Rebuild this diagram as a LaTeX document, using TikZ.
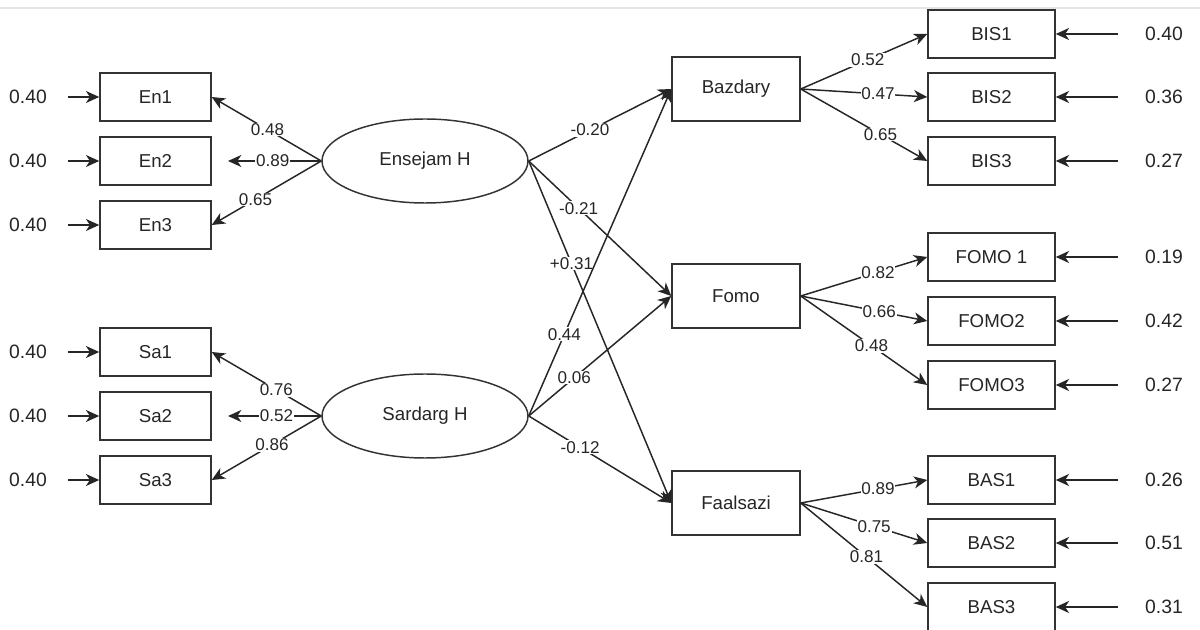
\documentclass[tikz,border=0pt]{standalone}
\usepackage{fontspec}
\setmainfont{Liberation Sans}
\usetikzlibrary{arrows.meta,shapes.geometric}
\begin{document}
\begin{tikzpicture}[x=0.75pt,y=-0.75pt,
  every node/.style={font=\fontsize{14}{16}\selectfont, text=black!85},
  lbox/.style={draw=black!80, line width=1.1pt, rectangle, minimum width=83.25pt, minimum height=36pt, inner sep=0pt},
  mbox/.style={draw=black!80, line width=1.1pt, rectangle, minimum width=96pt, minimum height=48pt, inner sep=0pt},
  rbox/.style={draw=black!80, line width=1.1pt, rectangle, minimum width=95.25pt, minimum height=36pt, inner sep=0pt},
  lat/.style={draw=black!80, line width=1.1pt, ellipse, minimum width=154.5pt, minimum height=63pt, inner sep=0pt},
  arr/.style={draw=black!85, line width=1.1pt, -{Stealth[length=10pt,width=9pt,inset=3pt]}},
  lab/.style={fill=white, inner sep=0.6pt, font=\fontsize{12.8}{14}\selectfont},
  err/.style={font=\fontsize{14.5}{16}\selectfont}]
\useasboundingbox (0,0) rectangle (1200,630);
\fill[white] (0,0) rectangle (1200,630);
\draw[black!10, line width=0.8pt] (0,8) -- (1200,8);

% left indicators
\node[lbox] (En1) at (155.5,97) {En1};
\node[lbox] (En2) at (155.5,161) {En2};
\node[lbox] (En3) at (155.5,225) {En3};
\node[lbox] (Sa1) at (155.5,352) {Sa1};
\node[lbox] (Sa2) at (155.5,416) {Sa2};
\node[lbox] (Sa3) at (155.5,480) {Sa3};

% left errors
\foreach \n/\y in {En1/97,En2/161,En3/225,Sa1/352,Sa2/416,Sa3/480}{
  \node[err] (e\n) at (28,\y) {0.40};
  \coordinate (s\n) at (68,\y);
  \draw[arr] (s\n) -- (\n.west);
}

% latents
\node[lat] (ENS) at (425,161) {Ensejam H};
\node[lat] (SAR) at (425,416) {Sardarg H};

\coordinate (tEn2) at (228,161);
\coordinate (tSa2) at (228,416);
\draw[arr] (ENS.west) -- node[lab,pos=0.49]{0.48} (En1.east);
\draw[arr] (ENS.west) -- node[lab,pos=0.52]{0.89} (tEn2);
\draw[arr] (ENS.west) -- node[lab,pos=0.6]{0.65} (En3.east);
\draw[arr] (SAR.west) -- node[lab,pos=0.41]{0.76} (Sa1.east);
\draw[arr] (SAR.west) -- node[lab,pos=0.48]{0.52} (tSa2);
\draw[arr] (SAR.west) -- node[lab,pos=0.45]{0.86} (Sa3.east);

% middle
\node[mbox] (BAZ) at (736,89) {Bazdary};
\node[mbox] (FOM) at (736,296) {Fomo};
\node[mbox] (FAA) at (736,503) {Faalsazi};

\draw[arr] (ENS.east) -- node[lab,pos=0.43]{-0.20} (BAZ.west);
\draw[arr] (ENS.east) -- node[lab,pos=0.35]{-0.21} (FOM.west);
\draw[arr] (ENS.east) -- node[lab,pos=0.30]{+0.31} (FAA.west);
\draw[arr] (SAR.east) -- node[lab,pos=0.25]{0.44} (BAZ.west);
\draw[arr] (SAR.east) -- node[lab,pos=0.32]{0.06} (FOM.west);
\draw[arr] (SAR.east) -- node[lab,pos=0.36]{-0.12} (FAA.west);

% right indicators
\node[rbox] (BIS1) at (991.5,34) {BIS1};
\node[rbox] (BIS2) at (991.5,97) {BIS2};
\node[rbox] (BIS3) at (991.5,161) {BIS3};
\node[rbox] (FO1) at (991.5,257) {FOMO 1};
\node[rbox] (FO2) at (991.5,321) {FOMO2};
\node[rbox] (FO3) at (991.5,385) {FOMO3};
\node[rbox] (BAS1) at (991.5,480) {BAS1};
\node[rbox] (BAS2) at (991.5,543) {BAS2};
\node[rbox] (BAS3) at (991.5,607) {BAS3};

\draw[arr] (BAZ.east) -- node[lab,pos=0.53]{0.52} (BIS1.west);
\draw[arr] (BAZ.east) -- node[lab,pos=0.61]{0.47} (BIS2.west);
\draw[arr] (BAZ.east) -- node[lab,pos=0.63]{0.65} (BIS3.west);
\draw[arr] (FOM.east) -- node[lab,pos=0.61]{0.82} (FO1.west);
\draw[arr] (FOM.east) -- node[lab,pos=0.62]{0.66} (FO2.west);
\draw[arr] (FOM.east) -- node[lab,pos=0.56]{0.48} (FO3.west);
\draw[arr] (FAA.east) -- node[lab,pos=0.61]{0.89} (BAS1.west);
\draw[arr] (FAA.east) -- node[lab,pos=0.58]{0.75} (BAS2.west);
\draw[arr] (FAA.east) -- node[lab,pos=0.52]{0.81} (BAS3.west);

% right errors
\foreach \n/\y/\v in {BIS1/34/0.40,BIS2/97/0.36,BIS3/161/0.27,FO1/257/0.19,FO2/321/0.42,FO3/385/0.27,BAS1/480/0.26,BAS2/543/0.51,BAS3/607/0.31}{
  \node[err] (e\n) at (1164,\y) {\v};
  \coordinate (s\n) at (1118,\y);
  \draw[arr] (s\n) -- (\n.east);
}
\end{tikzpicture}
\end{document}
